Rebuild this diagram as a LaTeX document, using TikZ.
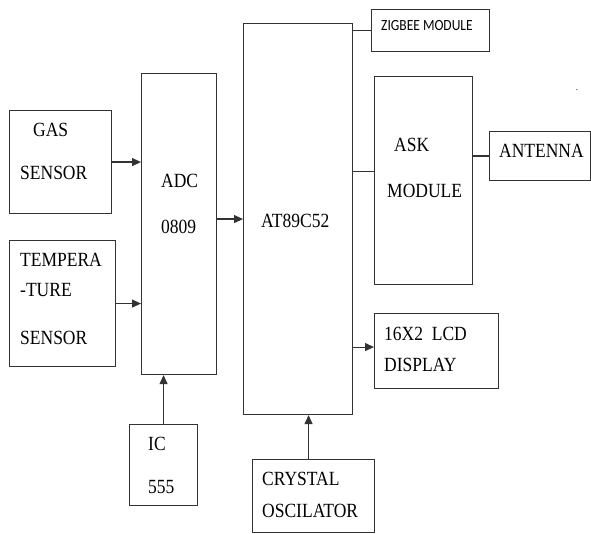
\documentclass[tikz,border=0pt]{standalone}
\usepackage{fontspec}
\setmainfont{Liberation Serif}
\newfontfamily\zigfont{Carlito}
\usetikzlibrary{arrows.meta}
\newcommand\tall[1]{\scalebox{1}[1.15]{#1}}

\begin{document}
\begin{tikzpicture}[
  x=1pt, y=-1pt,
  box/.style={draw=black!80, line width=1.1pt, anchor=north west, inner sep=0pt},
  lbl/.style={anchor=base west, inner sep=0pt,
              font=\rmfamily\fontsize{17.5}{20}\selectfont},
  arrow/.style={-{Triangle[length=9pt,width=8pt]}, draw=black!80, line width=1.1pt},
  link/.style={draw=black!80, line width=1.1pt}
]
  \useasboundingbox (0,0) rectangle (591,534);

  % blocks
  \node[box, minimum width=102pt, minimum height=103pt] (gas) at (9,110) {};
  \node[box, minimum width=106pt, minimum height=126pt] (temp) at (9,240) {};
  \node[box, minimum width=75pt, minimum height=301pt] (adc) at (141,73) {};
  \node[box, minimum width=68pt, minimum height=81pt] (ic) at (129,424) {};
  \node[box, minimum width=109pt, minimum height=391pt] (at) at (243,23) {};
  \node[box, minimum width=122pt, minimum height=73pt] (cry) at (252,459) {};
  \node[box, minimum width=118pt, minimum height=42pt] (zig) at (371,9) {};
  \node[box, minimum width=98pt, minimum height=208pt] (ask) at (374,76) {};
  \node[box, minimum width=101pt, minimum height=49pt] (ant) at (489,131) {};
  \node[box, minimum width=124pt, minimum height=75pt] (lcd) at (374,313) {};

  % labels
  \node[lbl] (gas1) at (33,137) {\tall{GAS}};
  \node[lbl] (gas2) at (20,180) {\tall{SENSOR}};
  \node[lbl] (temp1) at (20,267) {\tall{TEMPERA}};
  \node[lbl] (temp2) at (20,297) {\tall{-TURE}};
  \node[lbl] (temp3) at (20,344) {\tall{SENSOR}};
  \node[lbl] (adc1) at (161,188) {\tall{ADC}};
  \node[lbl] (adc2) at (161,234) {\tall{0809}};
  \node[lbl] (ic1) at (148,450) {\tall{IC}};
  \node[lbl] (ic2) at (148,493) {\tall{555}};
  \node[lbl] (at1) at (261,228) {\tall{AT89C52}};
  \node[lbl] (cry1) at (262,485) {\tall{CRYSTAL}};
  \node[lbl] (cry2) at (262,517) {\tall{OSCILATOR}};
  \node[lbl, font=\zigfont\fontsize{13.5}{15}\selectfont] (zig1) at (381,31) {\tall{ZIGBEE MODULE}};
  \node[lbl] (ask1) at (394,152) {\tall{ASK}};
  \node[lbl] (ask2) at (387,198) {\tall{MODULE}};
  \node[lbl] (ant1) at (499,158) {\tall{ANTENNA}};
  \node[lbl] (lcd1) at (384,340) {\tall{16X2\ \ LCD}};
  \node[lbl] (lcd2) at (384,371) {\tall{DISPLAY}};
  \node[inner sep=0pt, font=\fontsize{9}{9}\selectfont] (dot) at (577,90) {.};

  % connections
  \draw[arrow] (gas.east) -- (gas.east -| adc.west);
  \draw[arrow] (temp.east) -- (temp.east -| adc.west);
  \draw[arrow] (adc.east |- at.west) -- (at.west);
  \draw[arrow] (ic.north) -- (ic.north |- adc.south);
  \draw[arrow] ([xshift=-5pt]cry.north) -- ([xshift=-5pt]cry.north |- at.south);
  \draw[link] (at.east |- zig.west) -- (zig.west);
  \draw[link] ([yshift=9pt]ask.west -| at.east) -- ([yshift=9pt]ask.west);
  \draw[link] (ask.east |- ant.west) -- (ant.west);
  \draw[arrow] ([yshift=4pt]lcd.west -| at.east) -- ([yshift=4pt]lcd.west);
\end{tikzpicture}
\end{document}
